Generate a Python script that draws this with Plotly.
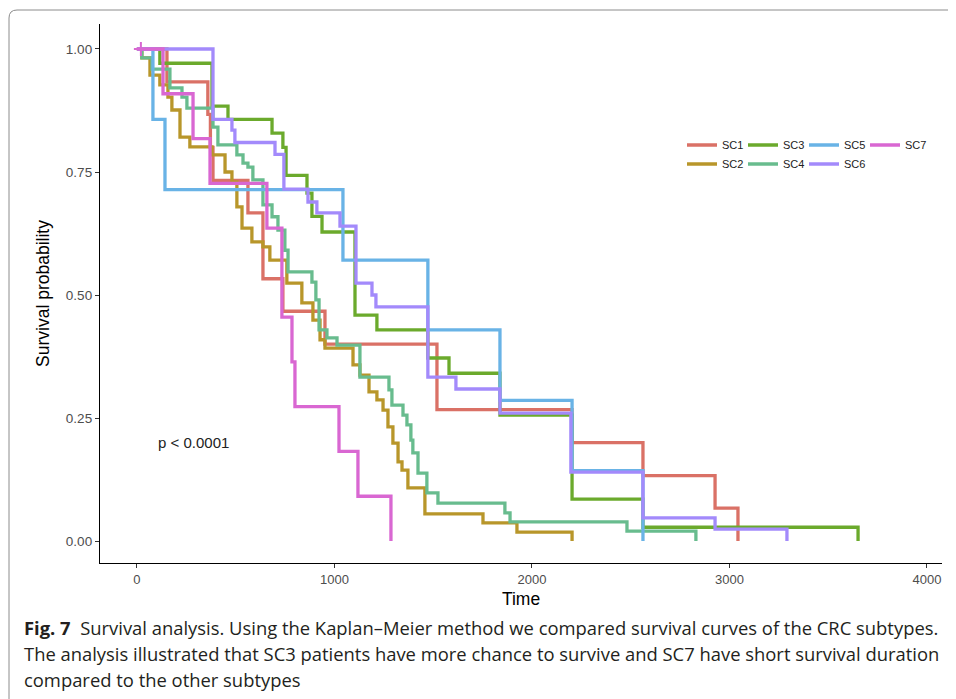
import plotly.graph_objects as go

# ---- data (Kaplan-Meier step curves) ----
groups = ["SC1", "SC2", "SC3", "SC4", "SC5", "SC6", "SC7"]
colors = ["#DA7166", "#B8962A", "#6BAA2C", "#68BC8E", "#69B3E6", "#A38AFB", "#D967D2"]

sc1_time = [0, 152, 359, 372, 385, 562, 638, 739, 952, 1519, 2203, 2562, 2927, 3043]
sc1_surv = [1.0, 0.933, 0.867, 0.8, 0.733, 0.667, 0.533, 0.467, 0.4, 0.267, 0.2, 0.133, 0.067, 0.0]

sc2_time = [0, 25, 66, 116, 157, 177, 218, 268, 380, 446, 481, 506, 532, 582, 638, 673, 759, 835,
            891, 927, 952, 1094, 1129, 1175, 1215, 1246, 1271, 1296, 1322, 1342, 1372, 1458, 1752, 1924, 2203]
sc2_surv = [1.0, 0.982, 0.947, 0.927, 0.902, 0.876, 0.821, 0.801, 0.785, 0.750, 0.730, 0.679, 0.636, 0.608,
            0.598, 0.571, 0.524, 0.484, 0.449, 0.409, 0.392, 0.358, 0.337, 0.303, 0.287, 0.266, 0.232, 0.199,
            0.161, 0.144, 0.108, 0.055, 0.037, 0.018, 0.0]

sc3_time = [0, 116, 380, 461, 684, 739, 755, 861, 886, 937, 1104, 1215, 1473, 1580, 1838, 2203, 2562, 3651]
sc3_surv = [1.0, 0.971, 0.884, 0.857, 0.829, 0.8, 0.743, 0.707, 0.66, 0.628, 0.459, 0.429, 0.372, 0.341,
            0.256, 0.085, 0.028, 0.0]

sc4_time = [0, 25, 76, 167, 228, 253, 385, 410, 506, 537, 562, 587, 638, 684, 714, 749, 765, 886, 906, 922,
            962, 1013, 1129, 1276, 1291, 1347, 1367, 1387, 1397, 1423, 1468, 1524, 1863, 1889, 2481, 2830]
sc4_surv = [1.0, 0.982, 0.959, 0.921, 0.902, 0.880, 0.841, 0.805, 0.785, 0.768, 0.760, 0.734, 0.683, 0.659,
            0.632, 0.591, 0.547, 0.526, 0.490, 0.429, 0.413, 0.398, 0.333, 0.307, 0.276, 0.256, 0.236, 0.205,
            0.179, 0.138, 0.098, 0.077, 0.057, 0.039, 0.020, 0.0]

sc5_time = [0, 81, 142, 1043, 1473, 1838, 2203, 2562]
sc5_surv = [1.0, 0.857, 0.714, 0.571, 0.429, 0.286, 0.143, 0.0]

sc6_time = [0, 385, 481, 496, 699, 744, 866, 911, 1028, 1109, 1190, 1210, 1473, 1615, 1838, 2197, 2562, 2927, 3291]
sc6_surv = [1.0, 0.857, 0.835, 0.81, 0.786, 0.715, 0.689, 0.667, 0.64, 0.524, 0.5, 0.476, 0.333, 0.309,
            0.26, 0.14, 0.047, 0.024, 0.0]

sc7_time = [0, 132, 284, 370, 658, 734, 785, 800, 1023, 1119, 1286]
sc7_surv = [1.0, 0.909, 0.818, 0.727, 0.636, 0.455, 0.364, 0.273, 0.182, 0.091, 0.0]

censor_sc7_time = [20]
censor_sc7_surv = [1.0]

x_ticks = [0, 1000, 2000, 3000, 4000]
y_ticks = [0.0, 0.25, 0.5, 0.75, 1.0]
y_tick_labels = ["0.00", "0.25", "0.50", "0.75", "1.00"]
p_text = "p < 0.0001"

times = [sc1_time, sc2_time, sc3_time, sc4_time, sc5_time, sc6_time, sc7_time]
survs = [sc1_surv, sc2_surv, sc3_surv, sc4_surv, sc5_surv, sc6_surv, sc7_surv]
legend_of = ["legend", "legend2", "legend", "legend2", "legend", "legend2", "legend"]
legend_w = [16, 16, 16, 16, 16, 26, 26]

fig = go.Figure()
for g, c, t, s, lg, lw in zip(groups, colors, times, survs, legend_of, legend_w):
    fig.add_trace(go.Scatter(
        x=t, y=s, mode="lines", name=g, legend=lg, legendwidth=lw,
        line=dict(color=c, width=3.3, shape="hv"),
    ))

fig.add_trace(go.Scatter(
    x=censor_sc7_time, y=censor_sc7_surv, mode="markers", showlegend=False,
    marker=dict(symbol="cross-thin", size=10, line=dict(color=colors[6], width=2)),
))

# page body has an 8px margin: figure coords = screen coords - 8
W, H = 948, 691
L, R, T, B = 92, 934, 16, 555


def px(xs):
    return (xs - 8 - L) / (R - L)


def py(ys):
    return (B - (ys - 8)) / (B - T)


base_font = "Arial"

fig.update_layout(
    width=W, height=H,
    margin=dict(l=L, r=W - R, t=T, b=H - B, pad=0),
    paper_bgcolor="white", plot_bgcolor="white",
    font=dict(family=base_font, color="#222222"),
    xaxis=dict(
        range=[-187, 4076], tickvals=x_ticks, showgrid=False, zeroline=False,
        showline=True, linecolor="black", linewidth=1.3,
        ticks="outside", ticklen=4, tickcolor="#333333", tickwidth=1,
        tickfont=dict(family=base_font, size=13, color="#4D4D4D"),
        title=dict(text="Time", font=dict(family=base_font, size=17.5, color="black"), standoff=6),
    ),
    yaxis=dict(
        range=[-0.0447, 1.0508], tickvals=y_ticks, ticktext=y_tick_labels,
        showgrid=False, zeroline=False,
        showline=True, linecolor="black", linewidth=1.3,
        ticks="outside", ticklen=4, tickcolor="#333333", tickwidth=1,
        tickfont=dict(family=base_font, size=13.5, color="#4D4D4D"),
        title=dict(text="Survival probability", font=dict(family=base_font, size=17.5, color="black"), standoff=11),
    ),
    legend=dict(
        orientation="h", x=px(682), xanchor="left", y=py(145), yanchor="middle",
        entrywidth=16, entrywidthmode="pixels", itemwidth=30,
        font=dict(family=base_font, size=11, color="#222222"), bgcolor="rgba(0,0,0,0)",
    ),
    legend2=dict(
        orientation="h", x=px(682), xanchor="left", y=py(164), yanchor="middle",
        entrywidth=16, entrywidthmode="pixels", itemwidth=30,
        font=dict(family=base_font, size=11, color="#222222"), bgcolor="rgba(0,0,0,0)",
    ),
)

# p-value label
fig.add_annotation(x=96, y=0.2, xref="x", yref="y", text=p_text, showarrow=False,
                   xanchor="left", yanchor="middle",
                   font=dict(family=base_font, size=15, color="#222222"))

# Caption
cap_font = dict(family="Open Sans", size=18.4, color="#231F20")
caption_lines = [
    "<b>Fig. 7</b>  Survival analysis. Using the Kaplan\u2013Meier method we compared survival curves of the CRC subtypes.",
    "The analysis illustrated that SC3 patients have more chance to survive and SC7 have short survival duration",
    "compared to the other subtypes",
]
for line, ypix in zip(caption_lines, [627, 653, 679]):
    fig.add_annotation(x=px(22), y=py(ypix), xref="paper", yref="paper", text=line,
                       showarrow=False, xanchor="left", yanchor="middle", font=cap_font)

# figure frame (rounded corner at top-left)
rx, ry = 8 / (R - L), 8 / (B - T)
x0, x1 = px(9), px(975)
y0, y1 = py(715), py(10)
fig.add_shape(type="path", xref="paper", yref="paper",
              path=f"M {x0},{y0} L {x0},{y1 - ry} Q {x0},{y1} {x0 + rx},{y1} L {x1},{y1}",
              line=dict(color="#8C8C8C", width=1))

fig.write_html("out.html")
